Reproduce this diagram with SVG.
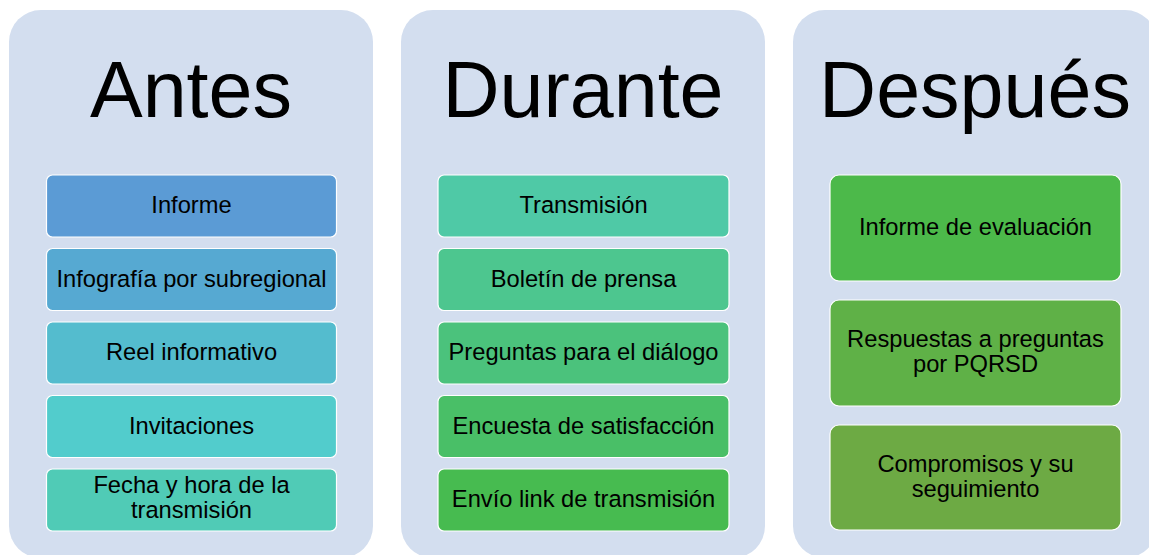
<svg xmlns="http://www.w3.org/2000/svg" width="1149" height="555" viewBox="0 0 1149 555">
<style>
.panel{fill:#D3DEEF;}
.box{stroke:#FFFFFF;stroke-width:1.2;}
.title{font-family:"Liberation Sans",Arial,sans-serif;font-size:79px;fill:#000;text-anchor:middle;}
.t{font-family:"Liberation Sans",Arial,sans-serif;font-size:23.7px;fill:#000;text-anchor:middle;}
</style>
<rect width="1149" height="555" fill="#FFFFFF"/>
<g id="antes">
<rect class="panel" x="9" y="10" width="364" height="548" rx="32"/>
<text class="title" x="191" y="117">Antes</text>
</g>
<g id="durante">
<rect class="panel" x="401" y="10" width="364" height="548" rx="32"/>
<text class="title" x="583" y="117">Durante</text>
</g>
<g id="despues">
<rect class="panel" x="793" y="10" width="364" height="548" rx="32"/>
<text class="title" x="975" y="117">Después</text>
</g>
<g id="a1"><rect class="box" x="46.5" y="175" width="290" height="62" rx="6" fill="#5B9BD5"/><text class="t" x="191.5" y="213">Informe</text></g>
<g id="a2"><rect class="box" x="46.5" y="248.5" width="290" height="62" rx="6" fill="#56A9D2"/><text class="t" x="191.5" y="286.5">Infografía por subregional</text></g>
<g id="a3"><rect class="box" x="46.5" y="322" width="290" height="62" rx="6" fill="#54BCCE"/><text class="t" x="191.5" y="360">Reel informativo</text></g>
<g id="a4"><rect class="box" x="46.5" y="395.5" width="290" height="62" rx="6" fill="#52CCCC"/><text class="t" x="191.5" y="433.5">Invitaciones</text></g>
<g id="a5"><rect class="box" x="46.5" y="469" width="290" height="62" rx="6" fill="#50CBB6"/><text class="t" x="191.5" y="493">Fecha y hora de la</text><text class="t" x="191.5" y="518">transmisión</text></g>
<g id="d1"><rect class="box" x="438" y="175" width="291" height="62" rx="6" fill="#4FC9A6"/><text class="t" x="583.5" y="213">Transmisión</text></g>
<g id="d2"><rect class="box" x="438" y="248.5" width="291" height="62" rx="6" fill="#4DC68F"/><text class="t" x="583.5" y="286.5">Boletín de prensa</text></g>
<g id="d3"><rect class="box" x="438" y="322" width="291" height="62" rx="6" fill="#4BC27C"/><text class="t" x="583.5" y="360">Preguntas para el diálogo</text></g>
<g id="d4"><rect class="box" x="438" y="395.5" width="291" height="62" rx="6" fill="#49BF67"/><text class="t" x="583.5" y="433.5">Encuesta de satisfacción</text></g>
<g id="d5"><rect class="box" x="438" y="469" width="291" height="62" rx="6" fill="#47BB50"/><text class="t" x="583.5" y="507">Envío link de transmisión</text></g>
<g id="p1"><rect class="box" x="830" y="175" width="291" height="106" rx="9" fill="#4CB94A"/><text class="t" x="975.5" y="235">Informe de evaluación</text></g>
<g id="p2"><rect class="box" x="830" y="300" width="291" height="106" rx="9" fill="#5FB147"/><text class="t" x="975.5" y="347">Respuestas a preguntas</text><text class="t" x="975.5" y="372">por PQRSD</text></g>
<g id="p3"><rect class="box" x="830" y="425" width="291" height="105" rx="9" fill="#6DAA44"/><text class="t" x="975.5" y="472">Compromisos y su</text><text class="t" x="975.5" y="497">seguimiento</text></g>
</svg>
